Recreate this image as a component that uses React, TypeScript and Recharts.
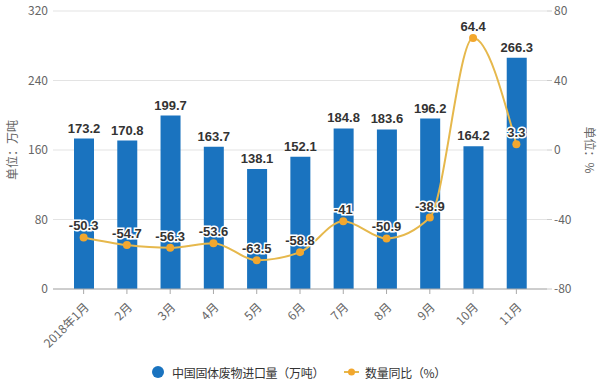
import {
	ComposedChart,
	Bar,
	Line,
	XAxis,
	YAxis,
	CartesianGrid,
	LabelList,
} from "recharts";

const months = ["2018年1月", "2月", "3月", "4月", "5月", "6月", "7月", "8月", "9月", "10月", "11月"];
const importVolume = [173.2, 170.8, 199.7, 163.7, 138.1, 152.1, 184.8, 183.6, 196.2, 164.2, 266.3];
const yoyChange = [-50.3, -54.7, -56.3, -53.6, -63.5, -58.8, -41, -50.9, -38.9, 64.4, 3.3];
const leftTicks = [0, 80, 160, 240, 320];
const rightTicks = [-80, -40, 0, 40, 80];

const BAR_COLOR = "#1a73bf";
const LINE_COLOR = "#e6b84c";
const DOT_COLOR = "#f2a72e";
const FONT = "'Noto Sans CJK SC', 'Liberation Sans', sans-serif";

const chartData = months.map((m, i) => ({
	month: m,
	volume: importVolume[i],
	yoy: yoyChange[i],
}));

export default function App() {
	return (
		<div style={{ position: "absolute", left: 0, top: 0, width: 598, height: 383, background: "#fff", fontFamily: FONT }}>
			<ComposedChart
				width={598}
				height={383}
				data={chartData}
				margin={{ top: 11, right: 0, left: 0, bottom: 0 }}
			>
				<CartesianGrid vertical={false} stroke="#e3e3e3" yAxisId="left" />
				<XAxis
					dataKey="month"
					height={94}
					padding={{ left: 9, right: 9 }}
					axisLine={{ stroke: "#aaa" }}
					tickLine={{ stroke: "#aaa" }}
					tickSize={5}
					tickMargin={8}
					interval={0}
					tick={{ fill: "#666", fontSize: 12, fontFamily: FONT }}
					angle={-45}
					textAnchor="end"
				/>
				<YAxis
					yAxisId="left"
					width={53}
					domain={[0, 320]}
					ticks={leftTicks}
					axisLine={false}
					tickLine={false}
					tickMargin={5}
					tickSize={0}
					tick={{ fill: "#666", fontSize: 12, fontFamily: FONT }}
					label={{ value: "单位：万吨", angle: -90, position: "center", dx: -14, fill: "#666", fontSize: 12, fontFamily: FONT }}
				/>
				<YAxis
					yAxisId="right"
					orientation="right"
					width={51}
					domain={[-80, 80]}
					ticks={rightTicks}
					axisLine={false}
					tickLine={{ stroke: "#ccc" }}
					tickSize={5}
					tickMargin={2}
					tick={{ fill: "#666", fontSize: 12, fontFamily: FONT }}
					label={{ value: "单位：%", angle: 90, position: "center", dx: 17, fill: "#666", fontSize: 12, fontFamily: FONT }}
				/>
				<Bar yAxisId="left" dataKey="volume" fill={BAR_COLOR} barSize={20} isAnimationActive={false}>
					<LabelList
						dataKey="volume"
						position="top"
						offset={6}
						fill="#333"
						fontSize={13}
						fontWeight="bold"
						fontFamily="'Liberation Sans', sans-serif"
					/>
				</Bar>
				<Line
					yAxisId="right"
					type="monotone"
					dataKey="yoy"
					stroke={LINE_COLOR}
					strokeWidth={2}
					dot={{ r: 4, fill: DOT_COLOR, stroke: DOT_COLOR, strokeWidth: 0 }}
					activeDot={false}
					isAnimationActive={false}
				>
					<LabelList
						dataKey="yoy"
						position="top"
						offset={7}
						fill="#333"
						stroke="#fff"
						strokeWidth={3}
						paintOrder="stroke"
						fontSize={13}
						fontWeight="bold"
						fontFamily="'Liberation Sans', sans-serif"
					/>
				</Line>
			</ComposedChart>
			{/* legend */}
			<div
				style={{
					position: "absolute",
					top: 363,
					left: 152,
					height: 18,
					display: "flex",
					alignItems: "center",
					fontSize: 12,
					color: "#333",
					whiteSpace: "nowrap",
				}}
			>
				<span style={{ display: "inline-block", width: 12, height: 12, borderRadius: 6, background: BAR_COLOR, marginRight: 8 }} />
				<span style={{ marginRight: 20, letterSpacing: -0.3 }}>中国固体废物进口量（万吨）</span>
				<svg width={15} height={10} style={{ marginRight: 6 }}>
					<line x1={0} y1={5} x2={15} y2={5} stroke={LINE_COLOR} strokeWidth={2} />
					<circle cx={7.5} cy={5} r={3.5} fill={DOT_COLOR} />
				</svg>
				<span style={{ letterSpacing: -0.3 }}>数量同比（%）</span>
			</div>
		</div>
	);
}
